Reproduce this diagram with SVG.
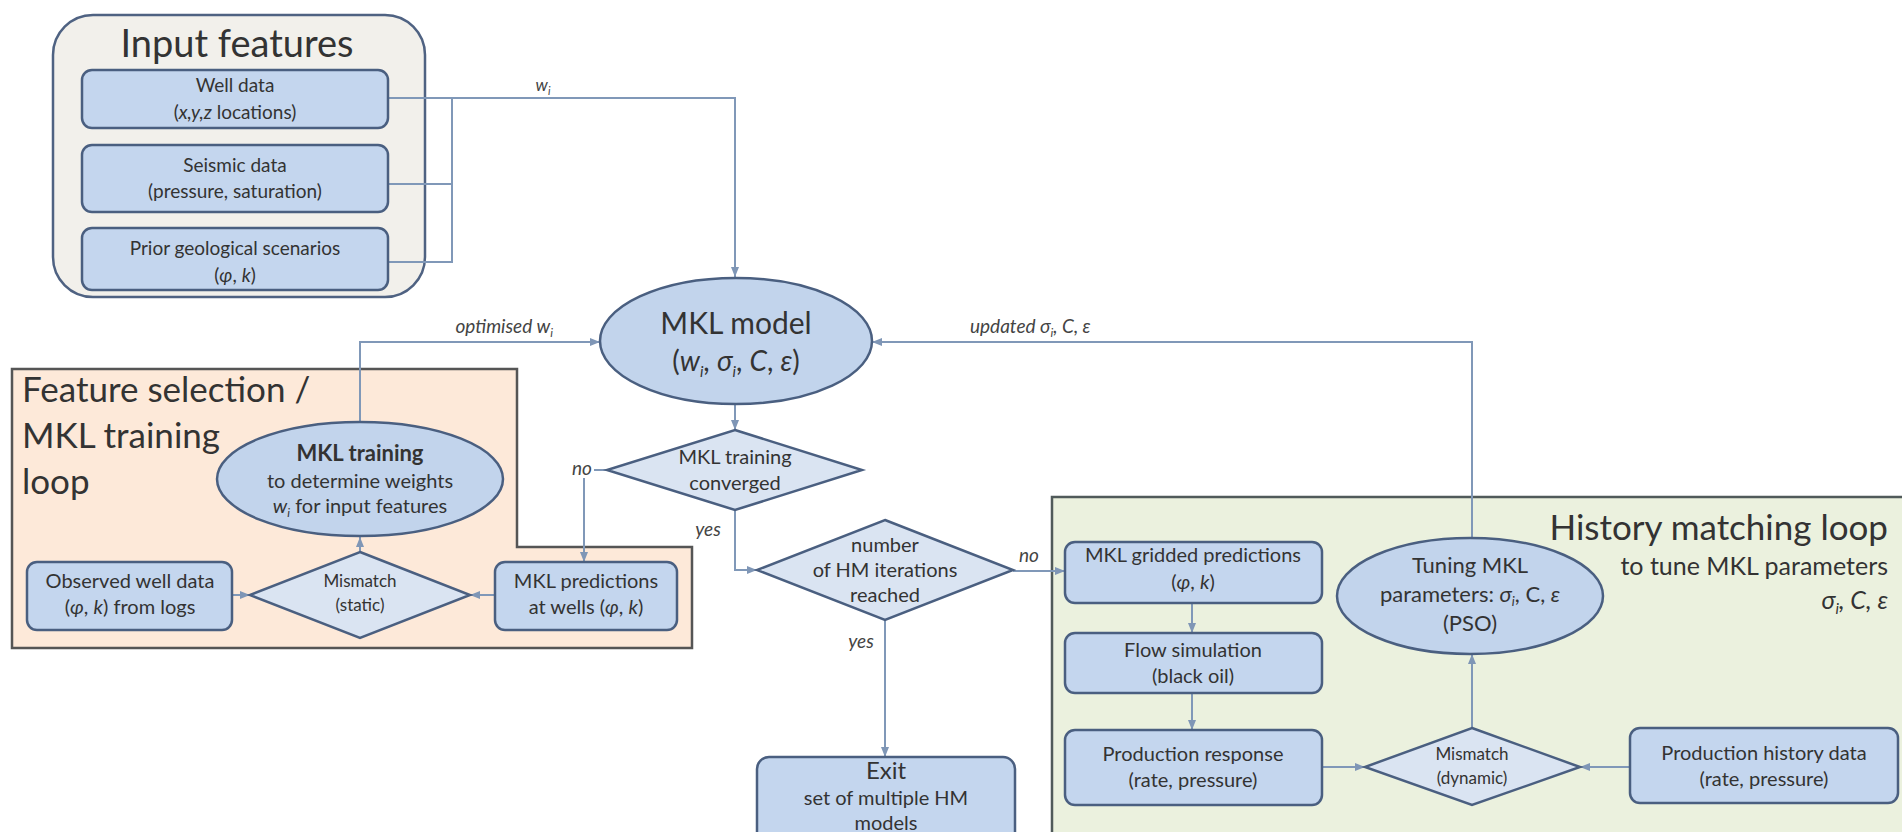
<svg xmlns="http://www.w3.org/2000/svg" width="1902" height="832" viewBox="0 0 1902 832">
<defs>
<marker id="arr" viewBox="0 0 10 10" refX="10" refY="5" markerWidth="10" markerHeight="10" markerUnits="userSpaceOnUse" orient="auto"><path d="M0,1 L10,5 L0,9 z" fill="#7f96b6"/></marker>
<style>
.t{font-family:Lato,"Noto Sans","DejaVu Sans",sans-serif;fill:#333;text-anchor:middle}
.s{font-size:19px}
.m{font-size:20px}
.box{fill:#c4d6ee;stroke:#4a5f80;stroke-width:2.5}
.ell{fill:#c2d4ec;stroke:#4a5f80;stroke-width:2.5}
.dia{fill:#dae4f2;stroke:#4a5f80;stroke-width:2.5}
.con{fill:none;stroke:#8098b8;stroke-width:2}
.arr{marker-end:url(#arr)}
.lbl{font-style:italic;font-size:19px;fill:#444}
.i{font-style:italic}
</style>
</defs>
<rect width="1902" height="832" fill="#ffffff"/>

<g id="input-features">
<rect x="53" y="15" width="372" height="282" rx="40" fill="#f2f0eb" stroke="#4f6282" stroke-width="2.5"/>
<text class="t" x="237" y="57" style="font-size:38px">Input features</text>
</g>
<g id="feature-selection-loop">
<path d="M12,369 H517 V547 H692 V648 H12 Z" fill="#fde9d9" stroke="#555" stroke-width="2.5"/>
<text class="t" x="22" y="402" style="font-size:35px;text-anchor:start">Feature selection /</text>
<text class="t" x="22" y="448" style="font-size:35px;text-anchor:start">MKL training</text>
<text class="t" x="22" y="494" style="font-size:35px;text-anchor:start">loop</text>
</g>
<g id="history-matching-loop">
<rect x="1052" y="497" width="880" height="360" fill="#ebf1de" stroke="#505a5a" stroke-width="2.5"/>
<text class="t" x="1888" y="540" style="font-size:35px;text-anchor:end">History matching loop</text>
<text class="t" x="1888" y="575" style="font-size:25px;text-anchor:end">to tune MKL parameters</text>
<text class="t i" x="1888" y="609" style="font-size:25px;text-anchor:end">σ<tspan dy="5" font-size="15">i</tspan><tspan dy="-5">, C, ε</tspan></text>
</g>

<g id="connectors">
<path class="con arr" d="M388,98 H735 V277"/>
<path class="con" d="M388,184 H452 M388,262 H452 V98"/>
<path class="con arr" d="M360,422 V342 H600"/>
<path class="con arr" d="M1472,538 V342 H872"/>
<path class="con arr" d="M735,405 V430"/>
<path class="con" d="M607,470 H594"/>
<path class="con arr" d="M584,478 V562"/>
<path class="con arr" d="M735,510 V570 H757"/>
<path class="con arr" d="M1013,571 H1065"/>
<path class="con arr" d="M885,620 V757"/>
<path class="con arr" d="M1192,603 V633"/>
<path class="con arr" d="M1192,693 V730"/>
<path class="con arr" d="M1322,767 H1365"/>
<path class="con arr" d="M1630,767 H1580"/>
<path class="con arr" d="M1472,728 V654"/>
<path class="con arr" d="M360,552 V537"/>
<path class="con arr" d="M232,595 H250"/>
<path class="con arr" d="M495,595 H470"/>
<text class="t lbl" x="543" y="91" style="font-size:17px">w<tspan dy="4" font-size="11">i</tspan></text>
<text class="t lbl" x="553" y="333" style="text-anchor:end">optimised w<tspan dy="4" font-size="12">i</tspan></text>
<text class="t lbl" x="970" y="333" style="text-anchor:start">updated σ<tspan dy="4" font-size="12">i</tspan><tspan dy="-4">, C, ε</tspan></text>
<text class="t lbl" x="582" y="475">no</text>
<text class="t lbl" x="708" y="536">yes</text>
<text class="t lbl" x="1029" y="562">no</text>
<text class="t lbl" x="861" y="648">yes</text>
</g>

<g id="well-data">
<rect class="box" x="82" y="70" width="306" height="58" rx="10"/>
<text class="t s" x="235" y="92">Well data</text>
<text class="t s" x="235" y="119">(<tspan class="i">x,y,z</tspan> locations)</text>
</g>
<g id="seismic-data">
<rect class="box" x="82" y="145" width="306" height="67" rx="10"/>
<text class="t s" x="235" y="172">Seismic data</text>
<text class="t s" x="235" y="198">(pressure,  saturation)</text>
</g>
<g id="prior-scenarios">
<rect class="box" x="82" y="228" width="306" height="62" rx="10"/>
<text class="t s" x="235" y="255">Prior geological scenarios</text>
<text class="t s" x="235" y="282">(<tspan class="i">φ</tspan>, <tspan class="i">k</tspan>)</text>
</g>

<g id="mkl-training">
<ellipse class="ell" cx="360" cy="479" rx="143" ry="57"/>
<text class="t" x="360" y="461" style="font-size:22px;font-weight:bold">MKL training</text>
<text class="t m" x="360" y="488">to determine weights</text>
<text class="t m" x="360" y="513"><tspan class="i">w</tspan><tspan dy="4" font-size="12" class="i">i</tspan><tspan dy="-4"> for input features</tspan></text>
</g>
<g id="mismatch-static">
<polygon class="dia" points="360,552 470,595 360,638 250,595"/>
<text class="t" x="360" y="587" style="font-size:17px">Mismatch</text>
<text class="t" x="360" y="611" style="font-size:17px">(static)</text>
</g>
<g id="observed-well-data">
<rect class="box" x="27" y="562" width="205" height="68" rx="10"/>
<text class="t m" x="130" y="588">Observed  well data</text>
<text class="t m" x="130" y="614">(<tspan class="i">φ</tspan>, <tspan class="i">k</tspan>) from logs</text>
</g>
<g id="mkl-predictions-wells">
<rect class="box" x="495" y="562" width="182" height="68" rx="10"/>
<text class="t m" x="586" y="588">MKL predictions</text>
<text class="t m" x="586" y="614">at wells (<tspan class="i">φ</tspan>, <tspan class="i">k</tspan>)</text>
</g>

<g id="mkl-model">
<ellipse class="ell" cx="736" cy="341" rx="136" ry="63"/>
<text class="t" x="736" y="334" style="font-size:30px">MKL model</text>
<text class="t" x="736" y="371" style="font-size:28px">(<tspan class="i">w</tspan><tspan class="i" dy="6" font-size="15">i</tspan><tspan dy="-6">, </tspan><tspan class="i">σ</tspan><tspan class="i" dy="6" font-size="15">i</tspan><tspan dy="-6">, </tspan><tspan class="i">C</tspan>, <tspan class="i">ε</tspan>)</text>
</g>
<g id="training-converged">
<polygon class="dia" points="735,430 862,470 735,510 607,470"/>
<text class="t m" x="735" y="464">MKL training</text>
<text class="t m" x="735" y="490">converged</text>
</g>
<g id="hm-iterations">
<polygon class="dia" points="885,520 1013,570 885,620 757,570"/>
<text class="t m" x="885" y="552">number</text>
<text class="t m" x="885" y="577">of HM iterations</text>
<text class="t m" x="885" y="602">reached</text>
</g>
<g id="exit">
<rect class="box" x="757" y="757" width="258" height="100" rx="12"/>
<text class="t" x="886" y="779" style="font-size:24px">Exit</text>
<text class="t m" x="886" y="805">set of multiple HM</text>
<text class="t m" x="886" y="830">models</text>
</g>

<g id="mkl-gridded-predictions">
<rect class="box" x="1065" y="542" width="257" height="61" rx="10"/>
<text class="t m" x="1193" y="562">MKL gridded predictions</text>
<text class="t m" x="1193" y="589">(<tspan class="i">φ</tspan>, <tspan class="i">k</tspan>)</text>
</g>
<g id="flow-simulation">
<rect class="box" x="1065" y="633" width="257" height="60" rx="10"/>
<text class="t m" x="1193" y="657">Flow simulation</text>
<text class="t m" x="1193" y="683">(black oil)</text>
</g>
<g id="production-response">
<rect class="box" x="1065" y="730" width="257" height="75" rx="10"/>
<text class="t m" x="1193" y="761">Production response</text>
<text class="t m" x="1193" y="787">(rate, pressure)</text>
</g>
<g id="tuning-mkl">
<ellipse class="ell" cx="1470" cy="596" rx="133" ry="58"/>
<text class="t" x="1470" y="573" style="font-size:22px">Tuning MKL</text>
<text class="t" x="1470" y="602" style="font-size:22px">parameters: <tspan class="i">σ</tspan><tspan class="i" dy="4" font-size="13">i</tspan><tspan dy="-4">, C, </tspan><tspan class="i">ε</tspan></text>
<text class="t" x="1470" y="631" style="font-size:22px">(PSO)</text>
</g>
<g id="mismatch-dynamic">
<polygon class="dia" points="1472,728 1580,767 1472,805 1365,767"/>
<text class="t" x="1472" y="760" style="font-size:17px">Mismatch</text>
<text class="t" x="1472" y="784" style="font-size:17px">(dynamic)</text>
</g>
<g id="production-history-data">
<rect class="box" x="1630" y="728" width="268" height="75" rx="10"/>
<text class="t m" x="1764" y="760">Production history data</text>
<text class="t m" x="1764" y="786">(rate, pressure)</text>
</g>
</svg>
